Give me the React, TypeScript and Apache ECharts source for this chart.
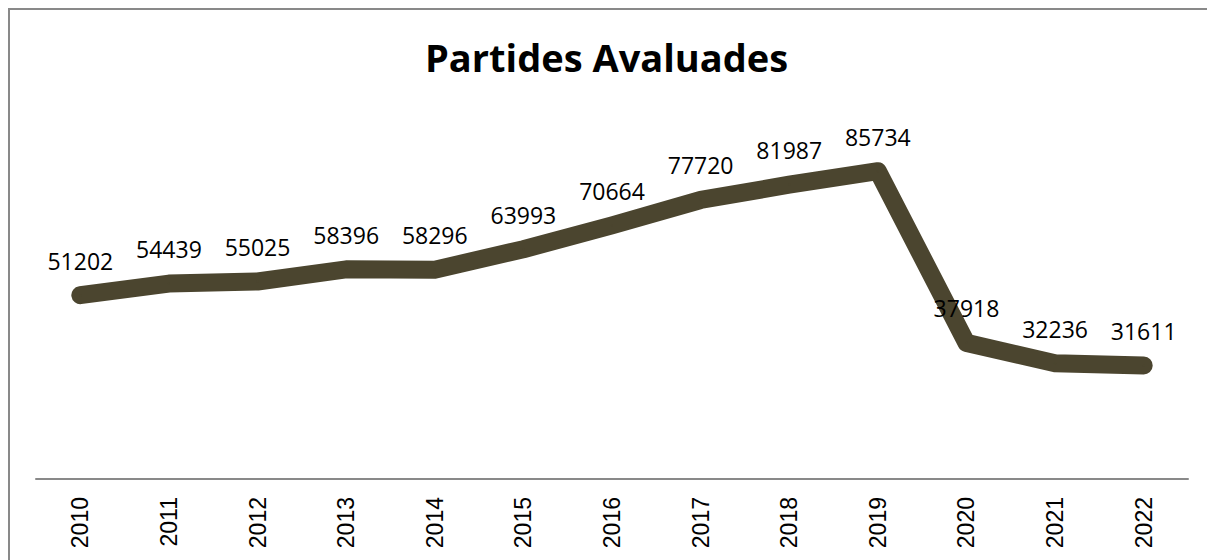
import React, { useEffect, useRef } from "react";
import * as echarts from "echarts";

const years = ["2010", "2011", "2012", "2013", "2014", "2015", "2016", "2017", "2018", "2019", "2020", "2021", "2022"];
const values = [51202, 54439, 55025, 58396, 58296, 63993, 70664, 77720, 81987, 85734, 37918, 32236, 31611];
const titleText = "Partides Avaluades";

export default function App() {
  const ref = useRef<HTMLDivElement>(null);
  useEffect(() => {
    document.documentElement.style.overflow = "hidden";
    document.body.style.overflow = "hidden";
    const chart = echarts.init(ref.current!, undefined, { renderer: "svg" });
    chart.setOption({
      animation: false,
      backgroundColor: "#ffffff",
      title: {
        text: titleText,
        left: 410,
        top: 23,
        textStyle: { fontFamily: "Open Sans", fontWeight: "bold", fontSize: 38, color: "#000" },
      },
      grid: { left: 26, right: 32, top: 110, bottom: 131 },
      xAxis: {
        type: "category",
        data: years,
        boundaryGap: true,
        axisLine: { lineStyle: { color: "#898989", width: 2 } },
        axisTick: { show: false },
        axisLabel: {
          rotate: 90,
          margin: 18,
          color: "#000",
          fontFamily: "Liberation Sans",
          fontSize: 23,
        },
      },
      yAxis: { type: "value", min: 0, max: 100000, show: false },
      series: [
        {
          type: "line",
          data: values,
          symbol: "circle",
          symbolSize: 2,
          showSymbol: true,
          itemStyle: { color: "#4b452f" },
          lineStyle: { color: "#4b452f", width: 18, cap: "round", join: "round" },
          label: {
            show: true,
            position: "top",
            distance: 22,
            color: "#000",
            fontFamily: "Open Sans",
            fontSize: 23,
          },
        },
      ],
    });
    return () => chart.dispose();
  }, []);
  return (
    <div
      style={{
        position: "absolute",
        left: 8,
        top: 8,
        width: 1210,
        height: 600,
        borderTop: "2px solid #898989",
        borderLeft: "2px solid #898989",
        boxSizing: "content-box",
      }}
    >
      <div ref={ref} style={{ width: 1210, height: 600 }} />
    </div>
  );
}
